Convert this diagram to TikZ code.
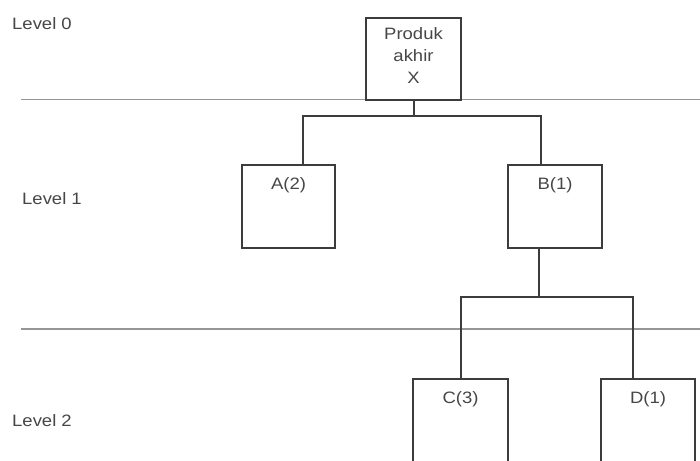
\documentclass[tikz,border=0pt]{standalone}
\usepackage{fontspec}
\setmainfont{Liberation Sans}
\definecolor{linecol}{RGB}{60,60,60}
\definecolor{lvlcol}{RGB}{150,150,150}
\definecolor{txtcol}{RGB}{70,70,70}
\newcommand{\wtxt}[1]{\scalebox{1.12}[1]{#1}}
\begin{document}
\begin{tikzpicture}[x=1pt,y=-1pt,
  box/.style={draw=linecol, line width=2pt, anchor=north, inner sep=0pt},
  conn/.style={draw=linecol, line width=2pt},
  lvl/.style={draw=lvlcol, line width=1.8pt},
  txt/.style={text=txtcol, inner sep=0pt, font=\fontsize{16.5}{22}\selectfont},
  lab/.style={txt, anchor=north, yshift=-13pt}]
\useasboundingbox (0,0) rectangle (700,460);
\clip (0,0) rectangle (700,460);
% level texts
\node[txt, anchor=west] (l0) at (12,23.5) {\wtxt{Level 0}};
\node[txt, anchor=west] (l1) at (22,199) {\wtxt{Level 1}};
\node[txt, anchor=west] (l2) at (12,421) {\wtxt{Level 2}};
% level lines
\coordinate (h1a) at (21,99.5); \coordinate (h1b) at (700,99.5);
\coordinate (h2a) at (21,329); \coordinate (h2b) at (700,329);
\draw[lvl] (h1a) -- (h1b);
\draw[lvl] (h2a) -- (h2b);
% boxes
\node[box, minimum width=95pt, minimum height=82pt,
  label={[txt, anchor=north, yshift=-10.5pt, align=center]north:\wtxt{Produk}\\\wtxt{akhir}\\\wtxt{X}}] (X) at (413.5,17) {};
\node[box, minimum width=93pt, minimum height=83pt,
  label={[lab]north:\wtxt{A(2)}}] (A) at (288.5,164) {};
\node[box, minimum width=94pt, minimum height=83pt,
  label={[lab]north:\wtxt{B(1)}}] (B) at (555,164) {};
\node[box, minimum width=95pt, minimum height=120pt,
  label={[lab]north:\wtxt{C(3)}}] (C) at (460.5,378) {};
\node[box, minimum width=94pt, minimum height=120pt,
  label={[lab]north:\wtxt{D(1)}}] (D) at (648,378) {};
% connector positions
\coordinate (ta) at (303,0);
\coordinate (tb) at (541,0);
\coordinate (bb) at (539,0);
\coordinate (tc) at (461,0);
\coordinate (td) at (633,0);
\coordinate (bus1) at (0,116);
\coordinate (bus2) at (0,297);
% connectors
\draw[conn] (X.south) -- (X.south |- bus1);
\draw[conn] (A.north -| ta) |- (bus1 -| tb) -- (B.north -| tb);
\draw[conn] (B.south -| bb) -- (bus2 -| bb);
\draw[conn] (C.north -| tc) |- (bus2 -| td) -- (D.north -| td);
\end{tikzpicture}
\end{document}
